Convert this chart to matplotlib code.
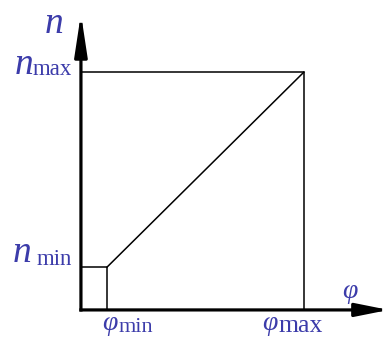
import matplotlib
matplotlib.use("Agg")
import matplotlib.pyplot as plt

# Speed range diagram: n vs phi
phi_vals = [0.117, 1.0]     # phi_min, phi_max
n_vals = [0.18, 1.0]        # n_min, n_max
phi_labels = ["min", "max"]
n_labels = ["min", "max"]

plt.rcParams['font.family'] = ['Liberation Serif', 'DejaVu Serif']
txt_color = '#3c3caa'

fig = plt.figure(figsize=(3.9, 3.38), dpi=100)
ax = fig.add_axes([0, 0, 1, 1])
ax.set_xlim(-0.363, 1.386)
ax.set_ylim(-0.118, 1.303)
ax.axis('off')

phi_min, phi_max = phi_vals
n_min, n_max = n_vals

# axes with arrows
ax.annotate('', xy=(0, 1.245), xytext=(0, 0),
            arrowprops=dict(arrowstyle='-|>,head_length=25,head_width=3.8',
                            mutation_scale=1, lw=2.3, color='black',
                            shrinkA=0, shrinkB=0, capstyle='projecting'))
ax.annotate('', xy=(1.38, 0), xytext=(0, 0),
            arrowprops=dict(arrowstyle='-|>,head_length=20,head_width=4',
                            mutation_scale=1, lw=2.3, color='black',
                            shrinkA=0, shrinkB=0, capstyle='projecting'))

# box lines and characteristic
ax.plot([0, phi_max, phi_max], [n_max, n_max, 0], color='black', lw=1.1)
ax.plot([0, phi_min, phi_min], [n_min, n_min, 0], color='black', lw=1.1)
ax.plot(phi_vals, n_vals, color='black', lw=1.1)

# axis names
ax.text(-0.08, 1.165, 'n', fontsize=27, style='italic', color=txt_color,
        ha='right', va='baseline')
ax.text(1.17, 0.05, 'φ', fontsize=20, style='italic', color=txt_color,
        ha='left', va='baseline')

# n tick labels
for val, lab, nx in zip(n_vals, n_labels, [-0.22, -0.215]):
    ax.text(nx, val - 0.01 if lab == 'max' else val + 0.02, 'n', fontsize=27,
            style='italic', color=txt_color, ha='right', va='baseline')
    ax.text(-0.04, val - 0.012 if lab == 'max' else val + 0.008, lab,
            fontsize=16.5, color=txt_color, ha='right', va='baseline')

# phi tick labels
for val, lab, dx, fs in zip(phi_vals, phi_labels, [0.045, -0.118], [16, 18.5]):
    ax.text(val + dx, -0.085, 'φ', fontsize=20, style='italic',
            color=txt_color, ha='right', va='baseline')
    ax.text(val + dx + 0.006, -0.092, lab, fontsize=fs, color=txt_color,
            ha='left', va='baseline')

fig.savefig('out.png', dpi=100)
